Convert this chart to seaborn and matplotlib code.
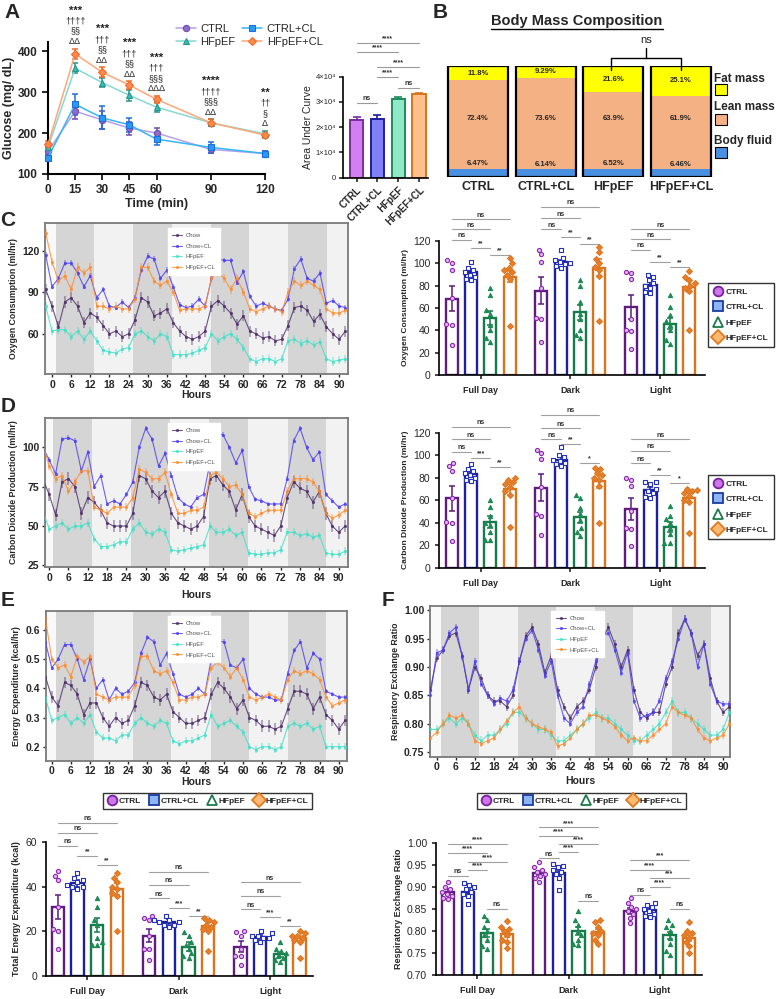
import warnings
import numpy as np
import pandas as pd
import matplotlib
matplotlib.use("Agg")
import matplotlib.pyplot as plt
from matplotlib.lines import Line2D
from matplotlib.patches import Rectangle
import seaborn as sns

warnings.filterwarnings("ignore")

# ---------------- data ----------------
groups = ["CTRL", "CTRL+CL", "HFpEF", "HFpEF+CL"]
periods = ["Full Day", "Dark", "Light"]

# A: glucose tolerance test
glc_time = [0, 15, 30, 45, 60, 90, 120]
glc_ctrl = [155, 253, 232, 212, 200, 160, 150]
glc_ctrl_cl = [140, 270, 237, 220, 185, 165, 150]
glc_hfpef = [165, 358, 323, 292, 263, 225, 198]
glc_hfpef_cl = [172, 393, 348, 317, 282, 225, 195]
glc_ctrl_sem = [10, 20, 22, 16, 11, 8, 6]
glc_ctrl_cl_sem = [8, 25, 28, 17, 14, 13, 7]
glc_hfpef_sem = [8, 12, 11, 13, 12, 8, 7]
glc_hfpef_cl_sem = [8, 13, 12, 9, 9, 8, 6]
glc_stars = ["", "***", "***", "***", "***", "****", "**"]
glc_dagger = ["", "††††", "†††", "†††", "†††", "††††", "††"]
glc_section = ["", "§§", "§§", "§§", "§§§", "§§§", "§"]
glc_delta = ["", "ΔΔ", "ΔΔ", "ΔΔ", "ΔΔΔ", "ΔΔ", "Δ"]

auc_mean = [2.30e4, 2.32e4, 3.12e4, 3.30e4]
auc_sem = [0.10e4, 0.15e4, 0.07e4, 0.06e4]
auc_sig = [(0, 3, 5.32e4, "****"), (0, 2, 4.99e4, "****"), (1, 3, 4.40e4, "****"),
           (1, 2, 4.00e4, "****"), (2, 3, 3.54e4, "ns"), (0, 1, 2.95e4, "ns")]

# B: body composition (%)
fat = [11.8, 9.29, 21.6, 25.1]
lean = [72.4, 73.6, 63.9, 61.9]
fluid = [6.47, 6.14, 6.52, 6.46]

# C-F time courses (every 2 h)
hours = list(range(-2, 93, 2))
vo2_chow = [92, 80, 65, 83, 86, 80, 68, 75, 72, 66, 60, 62, 58, 60, 70, 86, 83, 73, 75, 78, 68, 62, 58, 56,
            58, 62, 80, 84, 80, 75, 67, 73, 62, 60, 57, 58, 55, 56, 66, 79, 80, 77, 69, 74, 65, 60, 56, 62]
vo2_chow_cl = [117, 94, 100, 111, 111, 104, 94, 102, 86, 92, 80, 79, 83, 79, 86, 106, 116, 114, 100, 106, 94, 81, 79, 80,
               85, 80, 100, 114, 113, 113, 97, 105, 87, 80, 82, 80, 78, 77, 85, 107, 114, 100, 98, 104, 82, 84, 80, 79]
vo2_hfpef = [80, 62, 63, 63, 58, 62, 56, 62, 55, 48, 47, 46, 49, 50, 60, 62, 58, 55, 60, 58, 45, 45, 45, 46,
             48, 50, 60, 55, 58, 60, 56, 50, 42, 40, 42, 42, 40, 42, 55, 56, 53, 55, 52, 54, 42, 40, 41, 42]
vo2_hfpef_cl = [133, 112, 98, 102, 92, 108, 104, 108, 80, 80, 78, 80, 78, 78, 85, 108, 108, 98, 95, 98, 90, 77, 78, 78,
                78, 80, 100, 104, 100, 92, 100, 90, 78, 76, 78, 80, 78, 76, 90, 98, 95, 98, 95, 92, 78, 75, 75, 77]
vo2_sem_ts = [4, 2, 3, 3]

vco2_chow = [80, 70, 57, 78, 80, 75, 58, 68, 65, 60, 52, 50, 50, 50, 58, 82, 80, 72, 68, 72, 58, 52, 50, 48,
             50, 56, 80, 82, 76, 72, 60, 70, 56, 50, 48, 46, 44, 50, 68, 78, 74, 72, 65, 72, 58, 50, 46, 50]
vco2_chow_cl = [100, 92, 83, 105, 106, 104, 85, 97, 75, 82, 64, 66, 64, 70, 78, 100, 112, 105, 88, 96, 82, 68, 64, 62,
                68, 70, 90, 108, 108, 100, 90, 98, 75, 67, 66, 64, 64, 64, 80, 104, 112, 100, 92, 97, 70, 66, 62, 64]
vco2_hfpef = [60, 48, 50, 52, 48, 50, 50, 52, 42, 37, 37, 38, 40, 40, 48, 52, 46, 45, 48, 46, 35, 34, 35, 36,
              37, 38, 50, 46, 46, 48, 44, 46, 33, 32, 32, 33, 33, 35, 46, 46, 44, 45, 43, 44, 33, 32, 32, 34]
vco2_hfpef_cl = [102, 88, 80, 82, 72, 78, 85, 85, 62, 60, 58, 62, 62, 62, 68, 86, 84, 80, 80, 84, 70, 58, 58, 60,
                 60, 62, 82, 84, 80, 75, 76, 70, 58, 56, 58, 60, 60, 60, 72, 80, 80, 80, 78, 72, 58, 55, 57, 60]
vco2_sem_ts = [4, 1.5, 2.5, 2.5]

ee_chow = [0.44, 0.37, 0.34, 0.42, 0.41, 0.38, 0.31, 0.35, 0.35, 0.30, 0.27, 0.30, 0.28, 0.29, 0.34, 0.42,
           0.41, 0.37, 0.36, 0.38, 0.32, 0.30, 0.28, 0.28, 0.29, 0.30, 0.38, 0.42, 0.40, 0.37, 0.33, 0.36,
           0.30, 0.29, 0.27, 0.27, 0.26, 0.27, 0.33, 0.39, 0.39, 0.38, 0.33, 0.37, 0.31, 0.29, 0.26, 0.29]
ee_chow_cl = [0.56, 0.47, 0.50, 0.55, 0.55, 0.50, 0.43, 0.50, 0.40, 0.43, 0.36, 0.40, 0.38, 0.39, 0.42, 0.52,
              0.575, 0.56, 0.48, 0.52, 0.45, 0.38, 0.37, 0.38, 0.40, 0.38, 0.50, 0.56, 0.56, 0.48, 0.47, 0.50,
              0.40, 0.38, 0.37, 0.37, 0.36, 0.36, 0.45, 0.53, 0.56, 0.47, 0.52, 0.50, 0.39, 0.38, 0.37, 0.37]
ee_hfpef = [0.37, 0.29, 0.30, 0.31, 0.28, 0.30, 0.28, 0.31, 0.25, 0.23, 0.23, 0.22, 0.24, 0.24, 0.28, 0.30,
            0.28, 0.27, 0.29, 0.28, 0.22, 0.21, 0.22, 0.22, 0.23, 0.24, 0.31, 0.27, 0.28, 0.29, 0.27, 0.25,
            0.20, 0.19, 0.20, 0.20, 0.19, 0.20, 0.27, 0.28, 0.27, 0.28, 0.26, 0.27, 0.20, 0.20, 0.20, 0.20]
ee_hfpef_cl = [0.64, 0.50, 0.47, 0.48, 0.44, 0.51, 0.49, 0.51, 0.38, 0.37, 0.36, 0.37, 0.37, 0.37, 0.41, 0.51,
               0.51, 0.46, 0.45, 0.46, 0.42, 0.36, 0.36, 0.37, 0.37, 0.38, 0.47, 0.49, 0.47, 0.44, 0.47, 0.43,
               0.37, 0.36, 0.37, 0.38, 0.37, 0.36, 0.43, 0.46, 0.45, 0.46, 0.45, 0.43, 0.37, 0.34, 0.35, 0.36]
ee_sem_ts = [0.02, 0.008, 0.012, 0.012]

rer_chow = [0.86, 0.915, 0.93, 0.955, 0.96, 0.92, 0.86, 0.90, 0.88, 0.85, 0.84, 0.84, 0.83, 0.85, 0.91, 0.955,
            0.97, 0.94, 0.89, 0.92, 0.86, 0.83, 0.81, 0.83, 0.84, 0.86, 0.90, 0.95, 0.97, 0.94, 0.90, 0.93,
            0.86, 0.82, 0.81, 0.82, 0.82, 0.87, 0.90, 0.96, 0.985, 0.96, 0.92, 0.94, 0.88, 0.84, 0.82, 0.83]
rer_chow_cl = [0.85, 0.925, 0.93, 0.96, 0.97, 0.92, 0.86, 0.91, 0.87, 0.85, 0.835, 0.845, 0.84, 0.86, 0.91, 0.95,
               0.965, 0.93, 0.885, 0.91, 0.85, 0.81, 0.80, 0.82, 0.83, 0.87, 0.91, 0.955, 0.96, 0.93, 0.89, 0.925,
               0.84, 0.81, 0.815, 0.82, 0.84, 0.88, 0.91, 0.95, 0.985, 0.96, 0.90, 0.94, 0.87, 0.84, 0.835, 0.835]
rer_hfpef = [0.79, 0.79, 0.80, 0.81, 0.80, 0.81, 0.80, 0.78, 0.77, 0.78, 0.78, 0.79, 0.80, 0.82, 0.82, 0.81,
             0.80, 0.79, 0.79, 0.78, 0.77, 0.77, 0.78, 0.79, 0.80, 0.81, 0.82, 0.81, 0.81, 0.80, 0.79, 0.78,
             0.77, 0.77, 0.78, 0.79, 0.80, 0.82, 0.84, 0.82, 0.82, 0.81, 0.80, 0.79, 0.78, 0.78, 0.79, 0.82]
rer_hfpef_cl = [0.775, 0.785, 0.80, 0.815, 0.81, 0.815, 0.80, 0.77, 0.765, 0.77, 0.775, 0.79, 0.805, 0.82, 0.83, 0.81,
                0.80, 0.795, 0.79, 0.785, 0.76, 0.765, 0.775, 0.79, 0.80, 0.815, 0.815, 0.81, 0.805, 0.795, 0.78, 0.77,
                0.775, 0.77, 0.77, 0.78, 0.79, 0.80, 0.83, 0.82, 0.815, 0.81, 0.79, 0.775, 0.77, 0.775, 0.78, 0.80]
rer_sem_ts = [0.007, 0.006, 0.008, 0.006]

dark_starts = [1.3, 25.5, 49.8, 74.1]

# C-F bar summaries: [period][group]
vo2_mean = [[68.5, 92, 51, 88], [75.5, 101, 56, 96], [61, 81, 46, 79]]
vo2_sem = [[11, 3, 6, 5], [12, 2, 7, 7.5], [11, 3, 5, 5]]
vo2_pts = [
    [[103, 100, 94, 69, 46, 45, 27], [101, 96, 94, 92, 90, 88, 86, 85],
     [78, 72, 58, 55, 45, 40, 33, 30], [105, 100, 96, 94, 92, 90, 86, 44]],
    [[112, 108, 101, 78, 51, 50, 30], [112, 105, 103, 101, 100, 99, 98, 96],
     [85, 80, 65, 55, 50, 40, 36, 33], [115, 110, 104, 100, 97, 94, 89, 48]],
    [[92, 91, 86, 50, 40, 39, 23], [90, 88, 85, 82, 80, 78, 74, 73],
     [72, 61, 54, 48, 45, 40, 31, 28], [93, 88, 85, 82, 80, 78, 75, 40]]]
vo2_sig = [(0, 0, 1, 120.9, "ns"), (0, 0, 2, 130.5, "ns"), (0, 0, 3, 139.4, "ns"), (0, 1, 2, 114, "**"), (0, 2, 3, 107.5, "**"),
           (1, 0, 1, 130.5, "ns"), (1, 0, 2, 140.3, "ns"), (1, 0, 3, 150.4, "ns"), (1, 1, 2, 123.8, "**"), (1, 2, 3, 117.3, "**"),
           (2, 0, 1, 112, "ns"), (2, 0, 2, 121.5, "ns"), (2, 0, 3, 130.5, "ns"), (2, 1, 2, 101, "**"), (2, 2, 3, 97, "**")]

vco2_mean = [[61.6, 83, 40.6, 69.6], [71, 96, 44.7, 76.7], [52, 69, 36.4, 62]]
vco2_sem = [[11, 2.5, 5, 5], [12, 2, 5, 6], [10, 2.5, 4.5, 4]]
vco2_pts = [
    [[93, 90, 86, 62, 41, 40, 24], [92, 88, 86, 84, 82, 80, 78, 77],
     [60, 54, 46, 40, 38, 32, 25, 25], [80, 78, 76, 74, 72, 68, 65, 36]],
    [[105, 102, 97, 72, 48, 46, 29], [107, 100, 98, 96, 95, 93, 92, 90],
     [65, 62, 53, 48, 42, 35, 32, 28], [89, 88, 84, 82, 80, 78, 73, 40]],
    [[80, 78, 73, 50, 35, 34, 19], [76, 76, 74, 70, 68, 66, 63, 62],
     [55, 46, 43, 40, 35, 30, 22, 22], [70, 69, 68, 66, 64, 60, 58, 31]]]
vco2_sig = [(0, 0, 1, 103.1, "ns"), (0, 0, 2, 114.1, "ns"), (0, 0, 3, 125.3, "ns"), (0, 1, 2, 97.8, "***"), (0, 2, 3, 89.8, "**"),
            (1, 0, 1, 114.1, "ns"), (1, 0, 2, 123.9, "ns"), (1, 0, 3, 135.7, "ns"), (1, 1, 2, 110, "**"), (1, 2, 3, 92.8, "*"),
            (2, 0, 1, 92.8, "ns"), (2, 0, 2, 103.7, "ns"), (2, 0, 3, 114.1, "ns"), (2, 1, 2, 82.4, "**"), (2, 2, 3, 75, "*")]

ee_mean = [[31, 41.6, 22.8, 39], [18, 24.3, 13, 22.3], [13, 17.5, 9.6, 16.8]]
ee_sem = [[5.5, 1.5, 3, 2.5], [3, 1, 2, 1.8], [2.5, 1, 1.2, 1.2]]
ee_pts = [
    [[47, 45, 43, 31, 21, 20, 12], [46, 44, 43, 42, 41, 40, 40, 39],
     [35, 31, 25, 23, 17, 15, 14, 14], [46, 44, 42, 40, 39, 37, 36, 20]],
    [[27, 26, 25, 18, 12, 12, 7], [27, 25, 25, 24, 24, 23, 23, 22],
     [19.5, 18, 15, 14, 12, 10, 9, 8], [26, 25, 24, 23, 22, 21, 20, 11]],
    [[20, 19.5, 18, 12, 9, 9, 5], [20, 19, 18, 18, 17, 17, 16, 15],
     [15, 12, 11, 10, 9, 8, 7, 6], [20, 19, 18, 18, 17, 16, 15, 8]]]
ee_sig = [(0, 0, 1, 58.4, "ns"), (0, 0, 2, 64.1, "ns"), (0, 0, 3, 68.9, "ns"), (0, 1, 2, 54, "**"), (0, 2, 3, 49.8, "**"),
          (1, 0, 1, 34.8, "ns"), (1, 0, 2, 40.8, "ns"), (1, 0, 3, 46.8, "ns"), (1, 1, 2, 30.6, "***"), (1, 2, 3, 27, "**"),
          (2, 0, 1, 29.9, "ns"), (2, 0, 2, 36, "ns"), (2, 0, 3, 42, "ns"), (2, 1, 2, 26.6, "***"), (2, 2, 3, 22.4, "**")]

rer_mean = [[0.890, 0.890, 0.795, 0.793], [0.933, 0.932, 0.800, 0.799], [0.846, 0.848, 0.790, 0.785]]
rer_sem = [[0.005, 0.006, 0.009, 0.006], [0.005, 0.006, 0.009, 0.006], [0.006, 0.004, 0.009, 0.007]]
rer_pts = [
    [[0.912, 0.90, 0.895, 0.89, 0.885, 0.88, 0.875, 0.872], [0.91, 0.905, 0.90, 0.895, 0.89, 0.885, 0.88, 0.862],
     [0.835, 0.825, 0.81, 0.80, 0.79, 0.78, 0.765, 0.76], [0.822, 0.81, 0.805, 0.80, 0.79, 0.78, 0.775, 0.762]],
    [[0.957, 0.945, 0.94, 0.935, 0.93, 0.925, 0.92, 0.912], [0.952, 0.948, 0.945, 0.94, 0.935, 0.93, 0.92, 0.893],
     [0.845, 0.825, 0.815, 0.80, 0.79, 0.78, 0.77, 0.768], [0.825, 0.82, 0.81, 0.80, 0.795, 0.79, 0.78, 0.77]],
    [[0.875, 0.865, 0.855, 0.85, 0.845, 0.84, 0.83, 0.818], [0.865, 0.86, 0.855, 0.85, 0.845, 0.84, 0.835, 0.832],
     [0.825, 0.815, 0.81, 0.80, 0.785, 0.77, 0.755, 0.745], [0.82, 0.80, 0.795, 0.79, 0.785, 0.775, 0.765, 0.75]]]
rer_sig = [(0, 0, 3, 0.9987, "****"), (0, 0, 2, 0.977, "****"), (0, 1, 3, 0.958, "****"), (0, 1, 2, 0.939, "****"),
           (0, 0, 1, 0.926, "ns"), (0, 2, 3, 0.85, "ns"),
           (1, 0, 3, 1.036, "****"), (1, 0, 2, 1.017, "****"), (1, 1, 3, 0.999, "****"), (1, 1, 2, 0.98, "****"),
           (1, 0, 1, 0.966, "ns"), (1, 2, 3, 0.869, "ns"),
           (2, 0, 3, 0.962, "***"), (2, 0, 2, 0.939, "****"), (2, 1, 3, 0.92, "***"), (2, 1, 2, 0.901, "****"),
           (2, 0, 1, 0.882, "ns"), (2, 2, 3, 0.85, "ns")]

# ---------------- style ----------------
sns.set_theme(style="white")
plt.rcParams["font.family"] = ["Liberation Sans", "DejaVu Sans"]
plt.rcParams["axes.linewidth"] = 1.2

W, H = 778, 999
fig = plt.figure(figsize=(7.78, 9.99), dpi=100)


def add_ax(l, t, r, b):
    return fig.add_axes([l / W, 1 - b / H, (r - l) / W, (b - t) / H])


def ftext(x, y, s, **kw):
    fig.text(x / W, 1 - y / H, s, **kw)


for lab, x, y in [("A", 12, 13), ("B", 440, 12), ("C", 8, 220), ("D", 8, 407), ("E", 8, 601), ("F", 388, 601)]:
    ftext(x, y, lab, fontsize=15, fontweight="bold", ha="center", va="center")

# ---------------- A: GTT ----------------
axA = add_ax(48, 42, 265, 174)
glc_series = [glc_ctrl, glc_ctrl_cl, glc_hfpef, glc_hfpef_cl]
glc_sems = [glc_ctrl_sem, glc_ctrl_cl_sem, glc_hfpef_sem, glc_hfpef_cl_sem]
glc_line = ["#B89FE8", "#35B7F5", "#86D9D2", "#FFA77A"]
glc_mark = ["#8E6CC8", "#2A9BF0", "#3CBDB2", "#FF8A4C"]
glc_err = ["#6F4DB0", "#1C6FE0", "#23978E", "#F26B2A"]
glc_mk = ["o", "s", "^", "D"]
for vals, sem, lc, mc, ec, mk, name in zip(glc_series, glc_sems, glc_line, glc_mark, glc_err, glc_mk, groups):
    axA.errorbar(glc_time, vals, yerr=sem, fmt="none", ecolor=ec, elinewidth=1.1, capsize=2.5, capthick=1.1, zorder=2)
    sns.lineplot(x=glc_time, y=vals, color=lc, lw=1.1, marker=mk, markersize=4.5,
                 markerfacecolor=mc, markeredgecolor=ec, markeredgewidth=0.8, label=name, ax=axA, zorder=3)
for ln in axA.lines:
    ln.set_clip_on(False)
for i in range(1, len(glc_time)):
    top = max(v[i] + s[i] for v, s in zip(glc_series, glc_sems))
    rows = [(glc_delta[i], 6.5, False), (glc_section[i], 6.5, False), (glc_dagger[i], 6.5, False), (glc_stars[i], 8, True)]
    for k, (txt, fs, bold) in enumerate(rows):
        axA.annotate(txt, (glc_time[i], top), xytext=(0, 2 + k * 7.3), textcoords="offset points",
                     ha="center", va="bottom", fontsize=fs, fontweight="bold" if bold else "normal",
                     annotation_clip=False, color="#222222")
axA.set_xlim(0, 120)
axA.set_ylim(100, 422)
axA.set_xticks(glc_time)
axA.set_yticks([100, 200, 300, 400])
axA.tick_params(labelsize=8.5, width=1.4, length=4, direction="out", left=True, bottom=True)
for t in axA.get_xticklabels() + axA.get_yticklabels():
    t.set_fontweight("bold")
axA.set_xlabel("Time (min)", fontsize=9, fontweight="bold", labelpad=1)
axA.set_ylabel("Glucose (mg/ dL)", fontsize=9, fontweight="bold", labelpad=2)
sns.despine(ax=axA)
for sp in ["left", "bottom"]:
    axA.spines[sp].set_linewidth(1.5)
    axA.spines[sp].set_color("black")
h, l = axA.get_legend_handles_labels()
order = [0, 2, 1, 3]
axA.legend([h[o] for o in order], [l[o] for o in order], ncol=2, loc="upper left",
           bbox_to_anchor=(166 / W, 1 - 14 / H), bbox_transform=fig.transFigure, frameon=False,
           fontsize=8, handlelength=1.8, columnspacing=0.6, handletextpad=0.4, labelspacing=0.25)

# AUC
axU = add_ax(343, 76.7, 428, 177.7)
auc_fill = ["#D17FF3", "#8080F7", "#8FE8C6", "#FFC08C"]
auc_edge = ["#7A2E9E", "#1F1F9E", "#1E8C5A", "#D9731E"]
sns.barplot(x=groups, y=auc_mean, hue=groups, palette=auc_fill, legend=False, saturation=1,
            width=0.63, linewidth=1.4, errorbar=None, ax=axU, zorder=2)
for patch, ec in zip(axU.patches, auc_edge):
    patch.set_edgecolor(ec)
for i in range(4):
    axU.errorbar(i, auc_mean[i], yerr=[[0], [auc_sem[i]]], fmt="none", ecolor=auc_edge[i],
                 elinewidth=1.2, capsize=3, capthick=1.2, zorder=1)
for g1, g2, y, lab in auc_sig:
    axU.plot([g1, g2], [y, y], color="#9A9A9A", lw=0.8, clip_on=False)
    axU.annotate(lab, ((g1 + g2) / 2, y), xytext=(0, 0.6), textcoords="offset points", ha="center",
                 va="bottom", fontsize=5, fontweight="bold", annotation_clip=False, color="#333333")
axU.set_xlim(-0.65, 3.43)
axU.set_ylim(0, 4e4)
axU.set_yticks([0, 1e4, 2e4, 3e4, 4e4])
axU.set_yticklabels(["0", "1×10⁴", "2×10⁴", "3×10⁴", "4×10⁴"], fontsize=5.5)
axU.set_xticks(range(4))
axU.set_xticklabels(groups, rotation=45, ha="right", rotation_mode="anchor", fontsize=7, fontweight="bold")
axU.tick_params(length=3, width=1.2, left=True, bottom=True, pad=2)
axU.set_ylabel("Area Under Curve", fontsize=7.5, labelpad=2)
axU.set_xlabel("")
sns.despine(ax=axU)
for sp in ["left", "bottom"]:
    axU.spines[sp].set_color("black")

# ---------------- B: body composition ----------------
axB = add_ax(444, 66, 715, 177)
tot = [f + l_ + fl for f, l_, fl in zip(fat, lean, fluid)]
fluid_n = [fl / t * 100 for fl, t in zip(fluid, tot)]
lean_top = [(fl + l_) / t * 100 for fl, l_, t in zip(fluid, lean, tot)]
fat_n = [f / t * 100 for f, t in zip(fat, tot)]
full = [100, 100, 100, 100]
bw = 0.886
sns.barplot(x=groups, y=full, color="#FFFF00", saturation=1, width=bw, linewidth=0, errorbar=None, ax=axB)
sns.barplot(x=groups, y=lean_top, color="#F4B183", saturation=1, width=bw, linewidth=0, errorbar=None, ax=axB)
sns.barplot(x=groups, y=fluid_n, color="#4A90E2", saturation=1, width=bw, linewidth=0, errorbar=None, ax=axB)
sns.barplot(x=groups, y=full, fill=False, color="black", width=bw, linewidth=1.6, errorbar=None, ax=axB)
for i in range(4):
    axB.text(i, 100 - fat_n[i] / 2, f"{fat[i]}%", ha="center", va="center", fontsize=5.5, fontweight="bold")
    axB.text(i, 53, f"{lean[i]}%", ha="center", va="center", fontsize=5.5, fontweight="bold")
    axB.text(i, fluid_n[i] + 1.5, f"{fluid[i]}%", ha="center", va="bottom", fontsize=5.5, fontweight="bold")
axB.plot([1.96, 1.96, 3.0, 3.0], [96.4, 107.2, 107.2, 96.4], color="black", lw=1, clip_on=False)
axB.plot([2.48, 2.48], [107.2, 116.2], color="black", lw=1, clip_on=False)
axB.text(2.48, 123.5, "ns", ha="center", va="center", fontsize=8)
axB.set_xlim(-0.5, 3.5)
axB.set_ylim(0, 100)
axB.set_yticks([])
axB.tick_params(axis="x", length=0, labelsize=9, pad=3)
for t in axB.get_xticklabels():
    t.set_fontweight("bold")
for sp in axB.spines.values():
    sp.set_visible(False)
ftext(577, 21, "Body Mass Composition", ha="center", va="center", fontsize=10.5, fontweight="bold")
fig.add_artist(Line2D([491 / W, 663 / W], [1 - 28.5 / H, 1 - 28.5 / H], color="black", lw=1))
for lab, yt, yb, col in [("Fat mass", 79, 84, "#FFFF00"), ("Lean mass", 107, 114, "#F4B183"),
                         ("Body fluid", 141, 147, "#4A90E2")]:
    ftext(714, yt, lab, ha="left", va="center", fontsize=8.5, fontweight="bold")
    fig.add_artist(Rectangle((715 / W, 1 - (yb + 11) / H), 12 / W, 11 / H, transform=fig.transFigure,
                             facecolor=col, edgecolor="black", lw=0.8))

# ---------------- time courses ----------------
ts_names = ["Chow", "Chow+CL", "HFpEF", "HFpEF+CL"]
ts_cols = ["#4A2A66", "#4B3CF2", "#3FE0C6", "#FF8A2B"]


def ts_panel(box, series, sems, xlim, ylim, yticks, yfmt, ylabel, xpad):
    ax = add_ax(*box)
    ax.set_facecolor("#F2F2F2")
    ax.axvspan(xlim[0], dark_starts[0], color="#F9F9F9", lw=0, zorder=0)
    for s in dark_starts:
        ax.axvspan(s, s + 12, color="#D5D5D5", lw=0, zorder=0)
    for vals, sem, col, name in zip(series, sems, ts_cols, ts_names):
        ax.errorbar(hours, vals, yerr=sem, fmt="none", ecolor=col, elinewidth=1.2, alpha=0.45, zorder=2)
        sns.lineplot(x=hours, y=vals, color=col, lw=0.8, alpha=0.8, marker="o", markersize=2.3,
                     markeredgewidth=0, label=name, ax=ax, zorder=3)
    ax.set_xlim(*xlim)
    ax.set_ylim(*ylim)
    ax.set_xticks(range(0, 91, 6))
    ax.set_yticks(yticks)
    ax.set_yticklabels([yfmt.format(v) for v in yticks])
    ax.tick_params(labelsize=7.5, length=2.5, width=1, left=True, bottom=True, pad=1.5)
    for t in ax.get_xticklabels() + ax.get_yticklabels():
        t.set_fontweight("bold")
    for sp in ax.spines.values():
        sp.set_color("#7A7A7A")
        sp.set_linewidth(1.3)
    ax.set_xlabel("Hours", fontsize=7.5, fontweight="bold", labelpad=xpad)
    ax.set_ylabel(ylabel, fontsize=6.3, fontweight="bold", labelpad=3)
    leg = ax.legend(loc="upper left", bbox_to_anchor=(0.395, 0.985), fontsize=4.3, frameon=True,
                    facecolor="white", edgecolor="white", fancybox=False, framealpha=1,
                    handlelength=1.6, labelspacing=0.9, borderpad=0.8, handletextpad=0.6)
    for t in leg.get_texts():
        t.set_color("#555555")
    return ax


ts_panel((45, 223, 348, 374), [vo2_chow, vo2_chow_cl, vo2_hfpef, vo2_hfpef_cl], vo2_sem_ts,
         (-2.2, 92.8), (31, 140), [60, 90, 120], "{:.0f}", "Oxygen Consumption (ml/hr)", 0.5)
ts_panel((45, 418, 348, 567), [vco2_chow, vco2_chow_cl, vco2_hfpef, vco2_hfpef_cl], vco2_sem_ts,
         (-1.3, 92.9), (24, 118.5), [25, 50, 75, 100], "{:.0f}", "Carbon Dioxide Production (ml/hr)", 5)
ts_panel((45.7, 610.7, 346.7, 760.7), [ee_chow, ee_chow_cl, ee_hfpef, ee_hfpef_cl], ee_sem_ts,
         (-1.9, 92.5), (0.152, 0.666), [0.2, 0.3, 0.4, 0.5, 0.6], "{:.1f}", "Energy Expenditure (kcal/hr)", 0.5)
ts_panel((430, 605.7, 730, 756.7), [rer_chow, rer_chow_cl, rer_hfpef, rer_hfpef_cl], rer_sem_ts,
         (-2.1, 92.2), (0.742, 1.008), [0.75, 0.80, 0.85, 0.90, 0.95, 1.00], "{:.2f}", "Respiratory Exchange Ratio", 3)

# ---------------- bar summaries ----------------
bar_edge = ["#5E1C7E", "#1C1FA0", "#167A4A", "#D9741C"]
pt_face = ["#E6B5F2", "#FFFFFF", "#1E8A55", "#E5802A"]
pt_edge = ["#8A2BAE", "#2633B8", "#1E8A55", "#E07722"]
pt_mk = ["o", "s", "^", "D"]
offsets = [-0.3225, -0.1075, 0.1075, 0.3225]


def bar_panel(box, means, sems, pts, sig, xlim, ylim, yticks, yfmt, ylabel, ylfs):
    ax = add_ax(*box)
    for g in range(4):
        xs = [p + offsets[g] for p in range(3)]
        ys = [means[p][g] for p in range(3)]
        sns.barplot(x=xs, y=ys, native_scale=True, orient="x", width=0.134, fill=False,
                    color=bar_edge[g], linewidth=1.7, errorbar=None, ax=ax, zorder=2)
        ax.errorbar(xs, ys, yerr=[sems[p][g] for p in range(3)], fmt="none", ecolor=bar_edge[g],
                    elinewidth=1.1, capsize=2.5, capthick=1.1, zorder=3)
        df = pd.DataFrame([(p + offsets[g], v) for p in range(3) for v in pts[p][g]], columns=["x", "v"])
        sns.swarmplot(data=df, x="x", y="v", native_scale=True, orient="x", marker=pt_mk[g],
                      color=pt_face[g], edgecolor=pt_edge[g], linewidth=0.8, size=3, ax=ax, zorder=4)
    for p, g1, g2, y, lab in sig:
        x1, x2 = p + offsets[g1], p + offsets[g2]
        ax.plot([x1, x2], [y, y], color="#A0A0A0", lw=0.8, clip_on=False)
        ax.annotate(lab, ((x1 + x2) / 2, y), xytext=(0, 0.5), textcoords="offset points", ha="center",
                    va="bottom", fontsize=5, fontweight="bold", annotation_clip=False, color="#333333")
    ax.set_xlim(*xlim)
    ax.set_ylim(*ylim)
    ax.set_xticks(range(3))
    ax.set_xticklabels(periods, fontsize=6.5, fontweight="bold")
    ax.set_yticks(yticks)
    ax.set_yticklabels([yfmt.format(v) for v in yticks], fontsize=7.5)
    ax.tick_params(length=3, width=1.2, left=True, bottom=True)
    ax.tick_params(axis="x", pad=5)
    ax.set_xlabel("")
    ax.set_ylabel(ylabel, fontsize=ylfs, fontweight="bold", labelpad=3)
    sns.despine(ax=ax)
    for sp in ["left", "bottom"]:
        ax.spines[sp].set_color("black")
    return ax


bar_panel((439.3, 241, 705, 375), vo2_mean, vo2_sem, vo2_pts, vo2_sig, (-0.4615, 2.5), (0, 120),
          list(range(0, 121, 20)), "{:.0f}", "Oxygen Consumption (ml/hr)", 6)
bar_panel((439.3, 432.7, 705, 567.7), vco2_mean, vco2_sem, vco2_pts, vco2_sig, (-0.4615, 2.5), (0, 120),
          list(range(0, 121, 20)), "{:.0f}", "Carbon Dioxide Production (ml/hr)", 6)
bar_panel((46, 842.3, 313, 975.7), ee_mean, ee_sem, ee_pts, ee_sig, (-0.452, 2.47), (0, 60),
          [0, 20, 40, 60], "{:.0f}", "Total Energy Expenditure (kcal)", 6.5)
bar_panel((436, 843.3, 701.7, 975), rer_mean, rer_sem, rer_pts, rer_sig, (-0.455, 2.46), (0.70, 1.00),
          [0.70, 0.75, 0.80, 0.85, 0.90, 0.95, 1.00], "{:.2f}", "Respiratory Exchange Ratio", 6.5)

# group legends
leg_face = ["#CC77E8", "#8FB4F2", "#FFFFFF", "#FFB870"]
leg_edge = ["#7B1FA2", "#1A3AA0", "#1B7A4B", "#E07B20"]
handles = [Line2D([], [], ls="none", marker=m, markersize=7, markerfacecolor=fc, markeredgecolor=ec,
                  markeredgewidth=1.3) for m, fc, ec in zip(pt_mk, leg_face, leg_edge)]
for cx, cy in [(741, 315), (741, 507)]:
    lg = fig.legend(handles, groups, loc="center", bbox_to_anchor=(cx / W, 1 - cy / H), ncol=1,
                    prop={"size": 6, "weight": "bold"}, frameon=True, fancybox=False, edgecolor="black",
                    handletextpad=0.3, labelspacing=0.9, borderpad=0.6, handlelength=1.2)
    lg.get_frame().set_linewidth(1)
for cx, cy in [(207.5, 801), (581.5, 801)]:
    lg = fig.legend(handles, groups, loc="center", bbox_to_anchor=(cx / W, 1 - cy / H), ncol=4,
                    prop={"size": 6, "weight": "bold"}, frameon=True, fancybox=False, edgecolor="black",
                    handletextpad=0.2, columnspacing=1.0, borderpad=0.5, handlelength=1.2)
    lg.get_frame().set_linewidth(1)

fig.savefig("out.png", dpi=100)
